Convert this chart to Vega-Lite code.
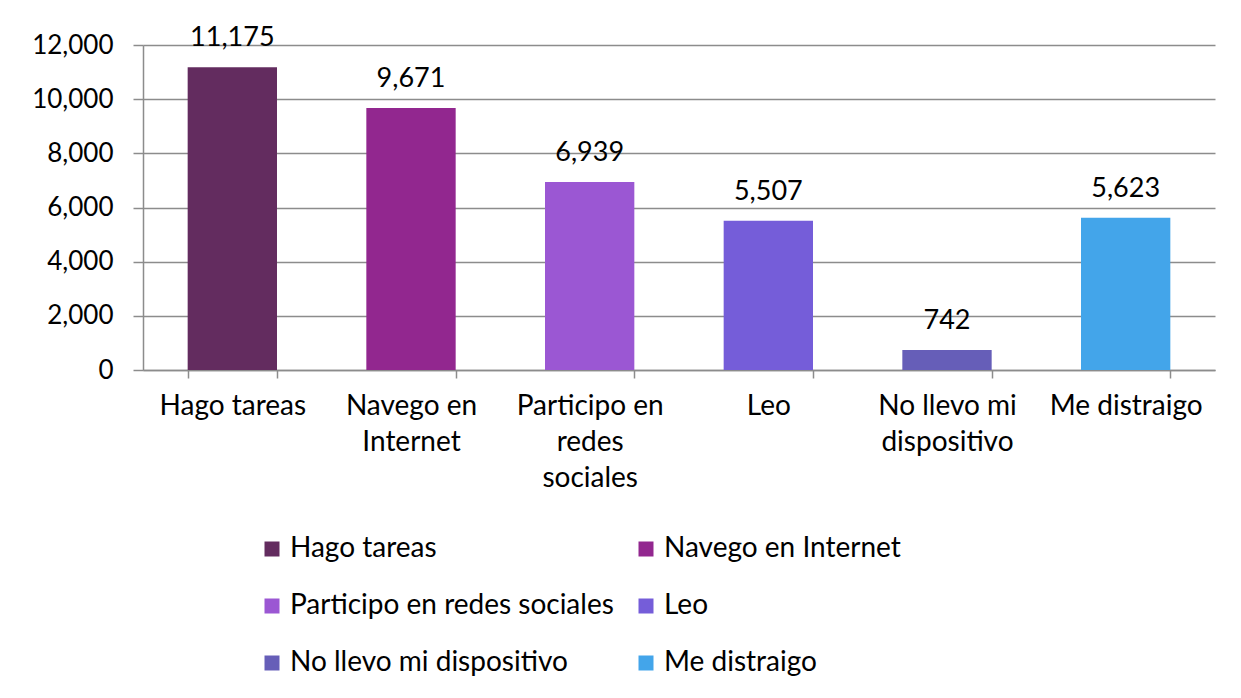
{
  "$schema": "https://vega.github.io/schema/vega-lite/v6.json",
  "width": 1072,
  "height": 325,
  "autosize": {"type": "none"},
  "padding": {"left": 143, "top": 45, "right": 26, "bottom": 328},
  "background": "white",
  "config": {"font": "Lato", "view": {"stroke": null}},
  "data": {
    "values": [
      {"cat": "Hago tareas", "value": 11175},
      {"cat": "Navego en Internet", "value": 9671},
      {"cat": "Participo en redes sociales", "value": 6939},
      {"cat": "Leo", "value": 5507},
      {"cat": "No llevo mi dispositivo", "value": 742},
      {"cat": "Me distraigo", "value": 5623}
    ]
  },
  "encoding": {
    "x": {
      "field": "cat",
      "type": "nominal",
      "sort": null,
      "scale": {"paddingInner": 0.5, "paddingOuter": 0.25},
      "axis": {
        "title": null,
        "labelAngle": 0,
        "labelFontSize": 28,
        "labelColor": "#000000",
        "labelBaseline": "top",
        "labelLineHeight": 36,
        "labelPadding": 14,
        "labelLimit": 300,
        "tickBand": "extent",
        "tickSize": 8,
        "tickColor": "#8c8c8c",
        "tickWidth": 1.5,
        "domainColor": "#8c8c8c",
        "domainWidth": 1.5,
        "grid": false,
        "labelExpr": "datum.value == 'Navego en Internet' ? ['Navego en', 'Internet'] : datum.value == 'Participo en redes sociales' ? ['Participo en', 'redes', 'sociales'] : datum.value == 'No llevo mi dispositivo' ? ['No llevo mi', 'dispositivo'] : datum.value"
      }
    }
  },
  "layer": [
    {
      "mark": {"type": "bar"},
      "encoding": {
        "y": {
          "field": "value",
          "type": "quantitative",
          "scale": {"domain": [0, 12000], "nice": false},
          "axis": {
            "title": null,
            "values": [0, 2000, 4000, 6000, 8000, 10000, 12000],
            "format": ",d",
            "labelFontSize": 26,
            "labelColor": "#000000",
            "labelPadding": 20,
            "tickSize": 10,
            "tickColor": "#8c8c8c",
            "tickWidth": 1.5,
            "domainColor": "#8c8c8c",
            "domainWidth": 1.5,
            "gridColor": "#8c8c8c",
            "gridWidth": 1.5
          }
        },
        "color": {
          "field": "cat",
          "type": "nominal",
          "sort": null,
          "scale": {
            "domain": ["Hago tareas", "Navego en Internet", "Participo en redes sociales", "Leo", "No llevo mi dispositivo", "Me distraigo"],
            "range": ["#632c5f", "#92278f", "#9b57d3", "#755dd9", "#665eb8", "#43a5ea"]
          },
          "legend": {
            "title": null,
            "orient": "none",
            "legendX": 115,
            "legendY": 490,
            "columns": 2,
            "direction": "horizontal",
            "symbolType": "square",
            "symbolSize": 225,
            "symbolStrokeWidth": 0,
            "labelFontSize": 28,
            "labelColor": "#000000",
            "labelOffset": 4,
            "labelLimit": 400,
            "rowPadding": 29,
            "columnPadding": 18
          }
        }
      }
    },
    {
      "mark": {"type": "text", "fontSize": 27, "baseline": "alphabetic", "dy": -21, "color": "#000000"},
      "encoding": {
        "y": {"field": "value", "type": "quantitative"},
        "text": {"field": "value", "type": "quantitative", "format": ",d"}
      }
    }
  ]
}
